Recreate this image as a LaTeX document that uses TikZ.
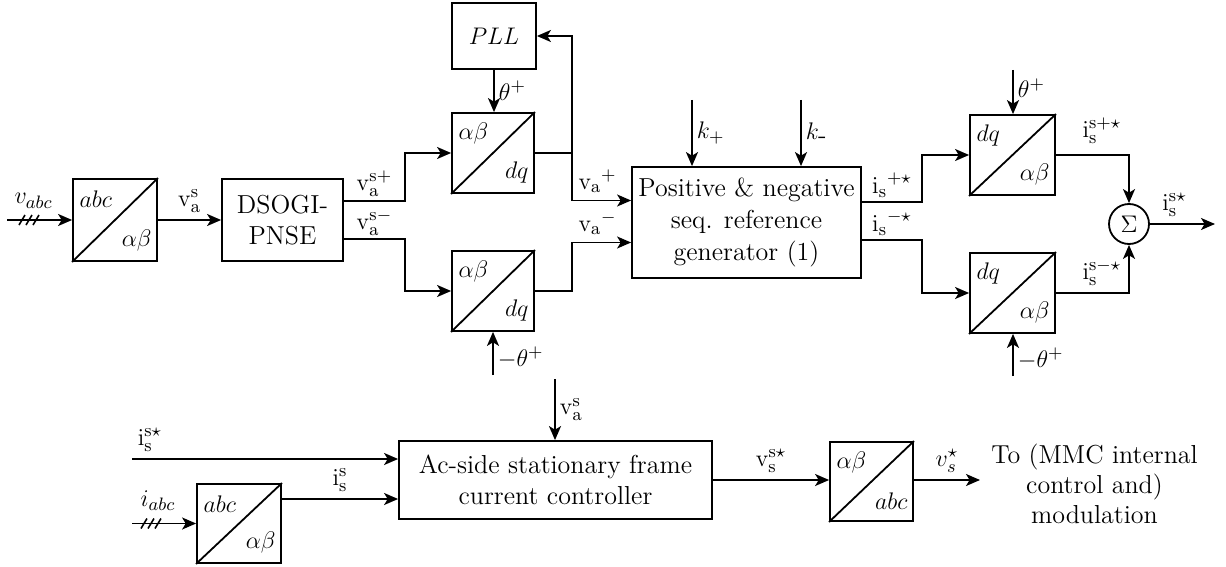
\documentclass[tikz,border=0pt]{standalone}
\usetikzlibrary{arrows.meta,calc}
\newcommand{\bigtxt}{\fontsize{13}{15.8}\selectfont}
\newcommand{\totxt}{\fontsize{13}{15}\selectfont}
\tikzset{
  blk/.style={draw, line width=0.9pt, rectangle, inner sep=0pt, align=center, font=\bigtxt},
  wire/.style={line width=0.9pt},
  arr/.style={wire, -{Stealth[length=7pt,width=6pt,inset=1.8pt]}},
  lbl/.style={font=\bigtxt, inner sep=3.5pt},
  tick/.style={line width=0.8pt},
}
\newcommand{\xfblock}[6]{%
  \node[blk, minimum width=#3, minimum height=#4] (#1) at #2 {};
  \draw[wire] (#1.south west) -- (#1.north east);
  \node[lbl, anchor=west, inner sep=0pt] at ($(#1.north west)+(7,21)$) {$#5$};
  \node[lbl, anchor=east, inner sep=0pt] at ($(#1.south east)+(-6,-21)$) {$#6$};
}
\begin{document}
\begin{tikzpicture}[x=0.5pt,y=-0.5pt]
\useasboundingbox (0,0) rectangle (1226,567);

% ---------- upper part ----------
\xfblock{A1}{(115,220)}{42pt}{41pt}{abc}{\alpha\beta}
\node[blk, minimum width=60.5pt, minimum height=41pt] (DS) at (282.5,220) {DSOGI-\\PNSE};
\xfblock{T1}{(493,153)}{41pt}{40pt}{\alpha\beta}{dq}
\xfblock{T2}{(493,291)}{41pt}{40pt}{\alpha\beta}{dq}
\node[blk, minimum width=42pt, minimum height=33pt] (PLL) at (494,36) {$PLL$};
\node[blk, minimum width=114.5pt, minimum height=55.5pt] (PS) at (746.5,222.5)
  {Positive \& negative\\seq. reference\\generator (1)};
\xfblock{T3}{(1012.5,155)}{42.5pt}{40pt}{dq}{\alpha\beta}
\xfblock{T4}{(1012.5,293)}{42.5pt}{40pt}{dq}{\alpha\beta}
\node[draw, circle, line width=0.9pt, minimum size=20pt, inner sep=0pt, font=\bigtxt] (S) at (1129,224) {$\Sigma$};

% input v_abc
\coordinate (vin) at (7,220);
\draw[arr] (vin) -- node[lbl, above, xshift=-3pt, yshift=2pt] {$v_{abc}$} (A1.west);
\begin{scope}[shift={(29,220)}]
  \foreach \d in {-7,0,7} \draw[tick] (\d-3,5) -- (\d+3,-5);
\end{scope}
\draw[arr] (A1.east) -- node[lbl, above] {$\mathrm{v}_\mathrm{a}^\mathrm{s}$} (DS.west);

% DSOGI outputs
\coordinate (c1) at (405,0);
\draw[arr] ([yshift=9.5pt]DS.east) coordinate (o1) -- node[lbl, above, inner sep=2pt] {$\mathrm{v}_\mathrm{a}^{\mathrm{s}+}$} (o1 -| c1) |- (T1.west);
\draw[arr] ([yshift=-9.5pt]DS.east) coordinate (o2) -- node[lbl, above, inner sep=1.5pt] {$\mathrm{v}_\mathrm{a}^{\mathrm{s}-}$} (o2 -| c1) |- (T2.west);

% PLL and theta
\draw[arr] (PLL.south) -- node[lbl, right, inner sep=2pt] {$\theta^+$} (PLL.south |- T1.north);
\coordinate (m1) at (493,375);
\draw[arr] (m1) -- node[lbl, right, inner sep=2pt, yshift=-2pt] {$-\theta^+$} (T2.south);

% T1 / T2 outputs
\coordinate (c2) at (572,0);
\draw[arr] (T1.east) -- (T1.east -| c2) |- (PLL.east);
\draw[arr] (T1.east -| c2) |- node[lbl, pos=0.75, above, xshift=-2pt] {${\mathrm{v}_\mathrm{a}}^{+}$} ([yshift=11pt]PS.west);
\draw[arr] (T2.east) -- (T2.east -| c2) |- node[lbl, pos=0.75, above, xshift=-2pt] {${\mathrm{v}_\mathrm{a}}^{-}$} ([yshift=-10pt]PS.west);

% k inputs
\coordinate (k1) at (692,100);
\coordinate (k2) at (801,100);
\draw[arr] (k1) -- node[lbl, right, inner sep=2pt] {$k_+$} (k1 |- PS.north);
\draw[arr] (k2) -- node[lbl, right, inner sep=2pt] {$k_{\textrm{-}}$} (k2 |- PS.north);

% PS outputs
\coordinate (c3) at (922,0);
\draw[arr] ([yshift=10.25pt]PS.east) coordinate (p1) -- node[lbl, above, inner sep=2pt] {${\mathrm{i}_\mathrm{s}}^{+\star}$} (p1 -| c3) |- (T3.west);
\draw[arr] ([yshift=-8.75pt]PS.east) coordinate (p2) -- node[lbl, above, inner sep=2pt] {${\mathrm{i}_\mathrm{s}}^{-\star}$} (p2 -| c3) |- (T4.west);

% theta for T3/T4
\coordinate (m2) at (1013,70);
\coordinate (m3) at (1013,376);
\draw[arr] (m2) -- node[lbl, right, inner sep=2pt, yshift=2pt] {$\theta^+$} (m2 |- T3.north);
\draw[arr] (m3) -- node[lbl, right, inner sep=2pt, yshift=-2pt] {$-\theta^+$} (m3 |- T4.south);

% T3/T4 to sum
\draw[arr] (T3.east) -| node[lbl, pos=0.5, above left, xshift=0pt, yshift=2pt] {$\mathrm{i}_\mathrm{s}^{\mathrm{s}+\star}$} (S.north);
\draw[arr] (T4.east) -| node[lbl, pos=0.5, above left, xshift=0pt, yshift=0pt] {$\mathrm{i}_\mathrm{s}^{\mathrm{s}-\star}$} (S.south);
\coordinate (so) at (1215,224);
\draw[arr] (S.east) -- node[lbl, above, xshift=-4pt] {$\mathrm{i}_\mathrm{s}^{\mathrm{s}\star}$} (so);

% ---------- lower part ----------
\node[blk, minimum width=156.5pt, minimum height=39pt] (AC) at (555.5,480)
  {Ac-side stationary frame\\current controller};
\xfblock{A2}{(239,523.5)}{42pt}{39.5pt}{abc}{\alpha\beta}
\xfblock{B}{(871.5,481.5)}{41.5pt}{39.5pt}{\alpha\beta}{abc}
\node[align=center, font=\totxt, inner sep=0pt] (to) at (1094.5,484) {To (MMC internal\\control and)\\modulation};

\coordinate (va) at (555,379);
\draw[arr] (va) -- node[lbl, right, inner sep=2pt] {$\mathrm{v}_\mathrm{a}^\mathrm{s}$} (va |- AC.north);

\coordinate (is) at (132,459);
\draw[arr] (is) node[lbl, above right, xshift=-1pt] {$\mathrm{i}_\mathrm{s}^{\mathrm{s}\star}$} -- (is -| AC.west);

\coordinate (ia) at (132,523.5);
\draw[arr] (ia) -- node[lbl, above, xshift=-3pt, yshift=2.5pt] {$i_{abc}$} (A2.west);
\begin{scope}[shift={(151,523.5)}]
  \foreach \d in {-7,0,7} \draw[tick] (\d-3,5) -- (\d+3,-5);
\end{scope}

\draw[arr] ([yshift=12.25pt]A2.east) coordinate (a2o) -- node[lbl, above] {$\mathrm{i}_\mathrm{s}^\mathrm{s}$} (a2o -| AC.west);

\draw[arr] (AC.east) -- node[lbl, above] {$\mathrm{v}_\mathrm{s}^{\mathrm{s}\star}$} (AC.east -| B.west);
\coordinate (vo) at (980,480);
\draw[arr] (B.east |- vo) -- node[lbl, above] {$v_s^\star$} (vo);
\end{tikzpicture}
\end{document}
